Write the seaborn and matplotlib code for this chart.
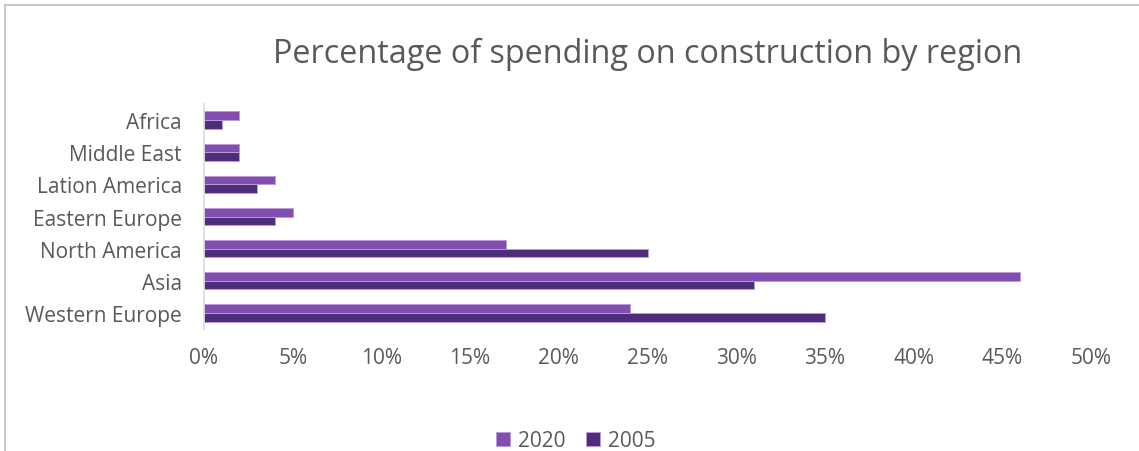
import matplotlib
matplotlib.use("Agg")
import matplotlib.pyplot as plt
from matplotlib.lines import Line2D
from matplotlib.ticker import PercentFormatter
import pandas as pd
import seaborn as sns

regions = ["Africa", "Middle East", "Lation America", "Eastern Europe",
           "North America", "Asia", "Western Europe"]
share_2020 = [2, 2, 4, 5, 17, 46, 24]
share_2005 = [1, 2, 3, 4, 25, 31, 35]
years = ["2020", "2005"]
x_ticks = [0, 5, 10, 15, 20, 25, 30, 35, 40, 45, 50]

df = pd.DataFrame({
    "region": regions * 2,
    "year": [years[0]] * len(regions) + [years[1]] * len(regions),
    "share": share_2020 + share_2005,
})

sns.set_theme(style="white")
plt.rcParams["font.family"] = ["Open Sans", "DejaVu Sans"]
text_grey = "#595959"

fig = plt.figure(figsize=(11.39, 4.52), dpi=100)
ax = fig.add_axes([204 / 1139, 1 - 330 / 452, (1091 - 204) / 1139, 225 / 452])

palette = {"2020": "#834CB0", "2005": "#4F2D7E"}
sns.barplot(data=df, y="region", x="share", hue="year", order=regions,
            hue_order=years, palette=palette, orient="h", width=0.54,
            edgecolor="#B79CD6", linewidth=0.7, saturation=1, ax=ax,
            legend=True)

ax.set_xlim(0, 50)
ax.set_xticks(x_ticks)
ax.xaxis.set_major_formatter(PercentFormatter(decimals=0))
ax.set_xlabel("")
ax.set_ylabel("")
ax.tick_params(axis="x", length=0, pad=13, labelsize=15, labelcolor=text_grey)
ax.tick_params(axis="y", length=0, pad=16, labelsize=15, labelcolor=text_grey)
for side in ("top", "right", "bottom"):
    ax.spines[side].set_visible(False)
ax.spines["left"].set_color("#D9D9D9")
ax.spines["left"].set_linewidth(1.2)
ax.grid(False)

ax.set_title("Percentage of spending on construction by region",
             fontsize=23.3, color=text_grey, pad=30)

handles, labels = ax.get_legend_handles_labels()
ax.get_legend().remove()
fig.legend(handles, labels, loc="center", bbox_to_anchor=(576 / 1139, 1 - 442 / 452),
           ncol=2, frameon=False, fontsize=15, labelcolor=text_grey,
           handlelength=0.65, handleheight=0.65, handletextpad=0.4,
           columnspacing=1.0)

# chart frame along the top and left edges
frame_kw = dict(color="#C8C8C8", linewidth=1.5, transform=fig.transFigure)
fig.add_artist(Line2D([4.5 / 1139, 4.5 / 1139], [0, 1 - 5.5 / 452], **frame_kw))
fig.add_artist(Line2D([4.5 / 1139, 1], [1 - 5.5 / 452, 1 - 5.5 / 452], **frame_kw))

fig.savefig("out.png", dpi=100)
